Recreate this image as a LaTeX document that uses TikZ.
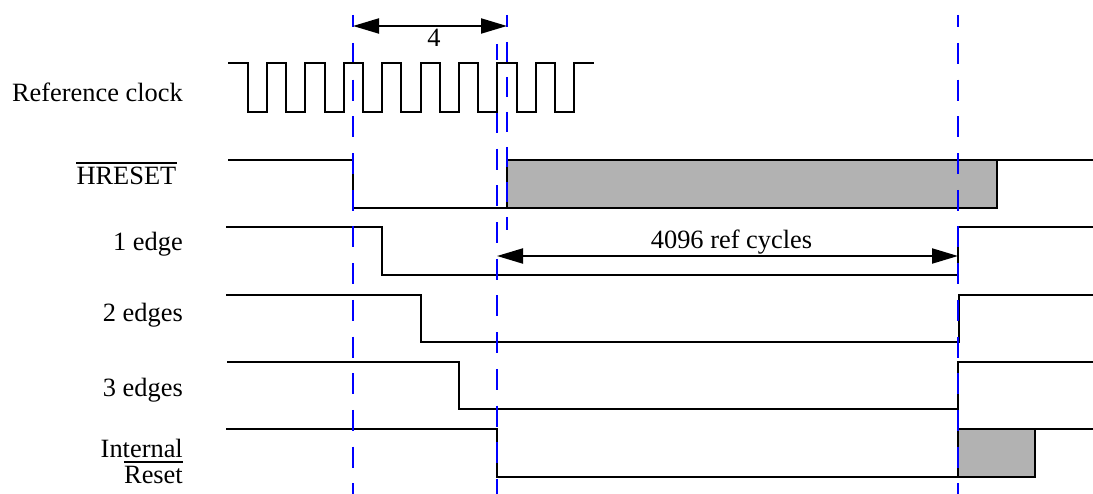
\documentclass[tikz,border=0pt]{standalone}
\usepackage{fontspec}
\setmainfont{Liberation Serif}
\usetikzlibrary{
  arrows.meta, % for the long dimension arrow tips
}
\tikzset{
  signal/.style={ % style for each waveform
    line width=1.8pt, % heavier than a hairline
    line cap=butt,
    line join=miter,
  },
  busy/.style={ % style for the undefined regions
    signal, % inherit the signal style
    fill=black!30, % add a fill color
  },
  marker/.style={ % style for the vertical timing markers
    draw=blue,
    line width=1.8pt,
  },
  span/.style={ % style for the dimension arrows
    {Triangle[length=26pt,width=15pt]}-{Triangle[length=26pt,width=15pt]},
    line width=2pt,
  },
  bar/.style={ % style for the bars over active-low names
    line width=2pt,
  },
  signame/.style={ % style for the labels at the left
    anchor=base east,
    inner sep=0pt,
    font=\fontsize{26.4}{30}\selectfont,
  },
  note/.style={ % style for the labels on the arrows
    anchor=base,
    inner sep=0pt,
    font=\fontsize{26.4}{30}\selectfont,
  },
}

\begin{document}
\begin{tikzpicture}[x=1pt,y=-1pt]
	\useasboundingbox (0,0) rectangle (1093,494);

	% waveforms below the clock
	\draw[signal] (228,160) -- (353,160) -- (353,208) -- (507,208);
	\draw[busy] (507,160) rectangle (997,208);
	\draw[signal] (997,160) -- (1093,160);

	\draw[signal] (226,227) -- (382,227) -- (382,275) -- (958,275) -- (958,227) -- (1093,227);
	\draw[signal] (226,295) -- (421,295) -- (421,342) -- (959,342) -- (959,295) -- (1093,295);
	\draw[signal] (227,362) -- (459,362) -- (459,409) -- (958,409) -- (958,362) -- (1093,362);

	\draw[signal] (226,429) -- (497,429) -- (497,477) -- (958,477);
	\draw[busy] (958,429) rectangle (1035,477);
	\draw[signal] (1035,429) -- (1093,429);

	% timing markers
	\coordinate (ma) at (353,26);
	\coordinate (mb) at (497,256);
	\coordinate (mc) at (507,26);
	\coordinate (md) at (958,256);

	\draw[marker,dash pattern=on 21pt off 15.7pt,dash phase=8.7pt] (353,15) -- (353,494);
	\draw[marker,dash pattern=on 21pt off 15.7pt,dash phase=5.4pt] (497,44) -- (497,494);
	\draw[marker,dash pattern=on 20pt off 15pt,dash phase=8pt] (507,15) -- (507,230);
	\draw[marker,dash pattern=on 21pt off 15.7pt,dash phase=8.7pt] (958,15) -- (958,494);

	% reference clock
	\draw[signal] (228,63) -- (248,63) -- (248,112) -- (267,112) -- (267,63)
		-- (286,63) -- (286,112) -- (305,112) -- (305,63)
		-- (325,63) -- (325,112) -- (344,112) -- (344,63)
		-- (363,63) -- (363,112) -- (382,112) -- (382,63)
		-- (401,63) -- (401,112) -- (421,112) -- (421,63)
		-- (440,63) -- (440,112) -- (459,112) -- (459,63)
		-- (478,63) -- (478,112) -- (497,112) -- (497,63)
		-- (517,63) -- (517,112) -- (536,112) -- (536,63)
		-- (555,63) -- (555,112) -- (574,112) -- (574,63) -- (594,63);

	% dimension arrows
	\draw[span] (ma) -- (mc);
	\draw[span] (mb) -- (md);
	\node[note] (four) at (434,47) {4};
	\node[note] (cycles) at (731.5,249) {4096 ref cycles};

	% signal names
	\node[signame] (refclk) at (183,102) {Reference clock};
	\node[signame] (hreset) at (176.5,185) {HRESET};
	\node[signame] (one) at (183,251) {1 edge};
	\node[signame] (two) at (183,322) {2 edges};
	\node[signame] (three) at (183,396) {3 edges};
	\node[signame] (internal) at (183,457) {Internal};
	\node[signame] (reset) at (183,483) {Reset};
	\draw[bar] ([yshift=4.5pt]hreset.north west) -- ([yshift=4.5pt]hreset.north east);
	\draw[bar] ([yshift=3.5pt]reset.north west) -- ([yshift=3.5pt]reset.north east);

\end{tikzpicture}
\end{document}
